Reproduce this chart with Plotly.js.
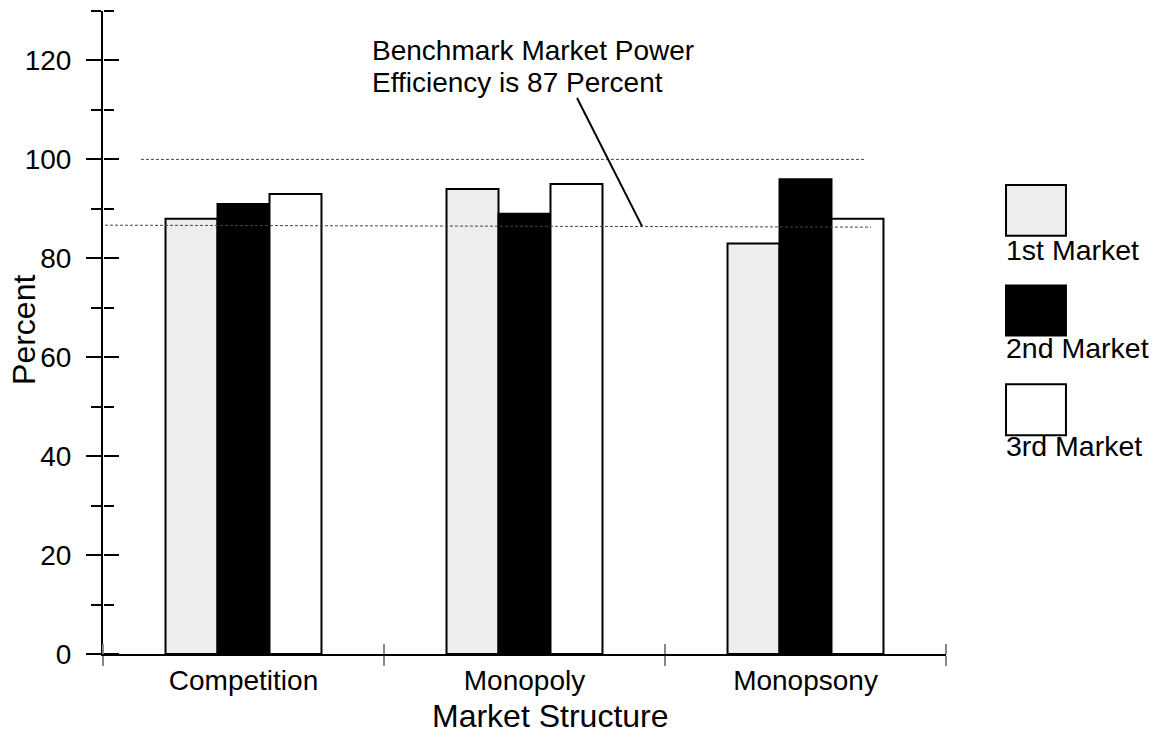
<!DOCTYPE html>
<html>
<head>
<meta charset="utf-8">
<script src="https://cdn.plot.ly/plotly-3.0.1.min.js"></script>
<style>html,body{margin:0;padding:0;background:#fff;}#chart{width:1161px;height:738px;}</style>
</head>
<body>
<div id="chart"></div>
<script>
const categories = ["Competition", "Monopoly", "Monopsony"];
const seriesNames = ["1st Market", "2nd Market", "3rd Market"];
const market1 = [88, 94, 83];
const market2 = [91, 89, 96];
const market3 = [93, 95, 88];
const seriesColors = ["#eeeeee", "#000000", "#ffffff"];
const yTickVals = [0, 20, 40, 60, 80, 100, 120];
const fullEfficiency = 100;
const benchmarkStart = 86.7;
const benchmarkEnd = 86.3;
const annotationLines = ["Benchmark Market Power", "Efficiency is 87 Percent"];
const xTitle = "Market Structure";
const yTitle = "Percent";

const FONT = "Liberation Sans, Arial, sans-serif";
const values = [market1, market2, market3];

const traces = values.map((v, i) => ({
  type: "bar",
  x: categories,
  y: v,
  name: seriesNames[i],
  marker: { color: seriesColors[i], line: { color: "#000", width: 2 } },
  showlegend: false,
  hoverinfo: "x+y+name"
}));
// invisible helper trace so the overlay axes (inner half of the crossing ticks) are drawn
traces.push({
  type: "scatter", mode: "markers", x: categories, y: market1,
  marker: { opacity: 0, size: 1 },
  xaxis: "x2", yaxis: "y2", showlegend: false, hoverinfo: "skip"
});

const shapes = [
  { type: "line", xref: "x", yref: "y", x0: -0.365, x1: 2.208, y0: fullEfficiency, y1: fullEfficiency,
    line: { color: "#444", width: 1, dash: "3px,2px" }, layer: "above" },
  { type: "line", xref: "x", yref: "y", x0: -0.493, x1: 2.233, y0: benchmarkStart, y1: benchmarkEnd,
    line: { color: "#444", width: 1, dash: "3px,2px" }, layer: "above" },
  { type: "line", xref: "x", yref: "y", x0: 1.187, y0: 112.4, x1: 1.418, y1: 86.5,
    line: { color: "#000", width: 2 }, layer: "above" }
];

const annoY = [0.939, 0.889];
const annotations = annotationLines.map((t, i) => ({
  xref: "paper", yref: "paper", x: 0.3167, y: annoY[i], xanchor: "left", yanchor: "middle", align: "left",
  text: t, showarrow: false, font: { family: FONT, size: 28, color: "#000" }
}));
// axis titles
annotations.push({
  xref: "paper", yref: "paper", x: -0.0937, y: 0.504, xanchor: "center", yanchor: "middle",
  text: yTitle, textangle: -90, showarrow: false, font: { family: FONT, size: 32, color: "#000" }
});
annotations.push({
  xref: "paper", yref: "paper", x: 0.5314, y: -0.0966, xanchor: "center", yanchor: "middle",
  text: xTitle, showarrow: false, font: { family: FONT, size: 32, color: "#000" }
});

const legBoxX0 = 1.0712, legBoxX1 = 1.1423;
const legBoxY = [[0.7293, 0.6505], [0.5732, 0.4952], [0.4194, 0.3402]];
const legLabelY = [0.6283, 0.4756, 0.3228];
seriesNames.forEach((n, i) => {
  shapes.push({ type: "rect", xref: "paper", yref: "paper", x0: legBoxX0, x1: legBoxX1,
    y0: legBoxY[i][1], y1: legBoxY[i][0], fillcolor: seriesColors[i], line: { color: "#000", width: 2 } });
  annotations.push({ xref: "paper", yref: "paper", x: legBoxX0 - 0.002, y: legLabelY[i], xanchor: "left", yanchor: "middle",
    text: n, showarrow: false, font: { family: FONT, size: 28.5, color: "#000" } });
});

const layout = {
  width: 1161, height: 738,
  margin: { l: 103, r: 215, t: 11, b: 83.5, pad: 0 },
  paper_bgcolor: "#fff", plot_bgcolor: "rgba(0,0,0,0)",
  font: { family: FONT, size: 28, color: "#000" },
  barmode: "group", bargap: 0.445, bargroupgap: 0,
  xaxis: {
    type: "category", categoryarray: categories, range: [-0.5, 2.5],
    showline: true, linecolor: "#000", linewidth: 2,
    ticks: "outside", tickson: "boundaries", ticklen: 10, tickwidth: 1.5, tickcolor: "#888",
    showgrid: false, zeroline: false, fixedrange: true,
    tickfont: { family: FONT, size: 28, color: "#000" }
  },
  xaxis2: {
    type: "category", categoryarray: categories, range: [-0.5, 2.5], overlaying: "x",
    side: "top", anchor: "free", position: 0,
    ticks: "outside", tickson: "boundaries", ticklen: 10, tickwidth: 1.5, tickcolor: "#888",
    showticklabels: false, showline: false, showgrid: false, zeroline: false, fixedrange: true
  },
  yaxis: {
    range: [0, 130], tickvals: yTickVals, ticktext: yTickVals.map(String),
    showline: true, linecolor: "#000", linewidth: 2,
    ticks: "outside", ticklen: 15, tickwidth: 2, tickcolor: "#000",
    minor: { dtick: 10, tick0: 0, ticks: "outside", ticklen: 10, tickwidth: 2, tickcolor: "#000" },
    showgrid: false, zeroline: false, fixedrange: true,
    ticklabelstandoff: 9,
    tickfont: { family: FONT, size: 28, color: "#000" }
  },
  yaxis2: {
    range: [0, 130], overlaying: "y", side: "right", anchor: "free", position: 0,
    tickvals: yTickVals, ticks: "outside", ticklen: 15, tickwidth: 2, tickcolor: "#000",
    minor: { dtick: 10, tick0: 0, ticks: "outside", ticklen: 10, tickwidth: 2, tickcolor: "#000" },
    showticklabels: false, showline: false, showgrid: false, zeroline: false, fixedrange: true
  },
  shapes: shapes,
  annotations: annotations,
  showlegend: false
};

Plotly.newPlot("chart", traces, layout, { displayModeBar: false, staticPlot: true });
</script>
</body>
</html>
